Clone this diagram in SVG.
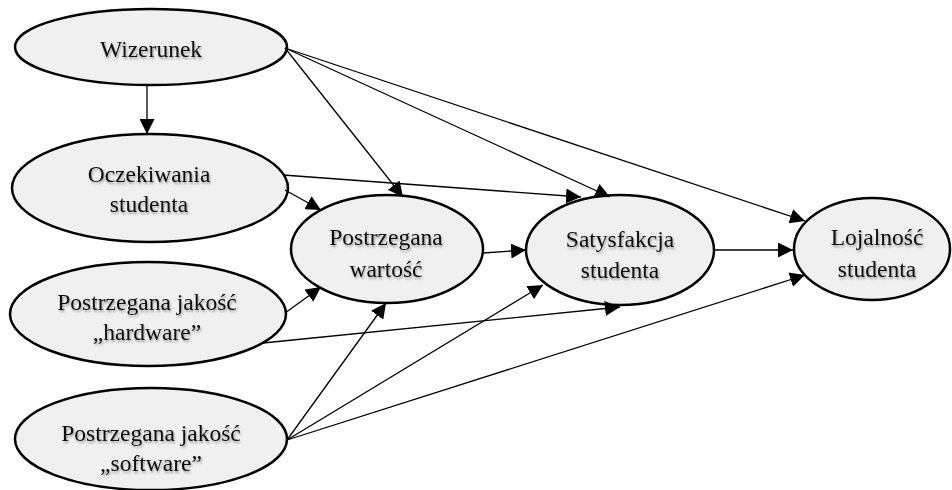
<svg xmlns="http://www.w3.org/2000/svg" width="952" height="490" viewBox="0 0 952 490">
  <defs>
    <marker id="arrow" markerUnits="userSpaceOnUse" markerWidth="16" markerHeight="15" refX="15" refY="7.5" orient="auto">
      <path d="M0,0 L15,7.5 L0,15 Z" fill="#000"/>
    </marker>
    <filter id="soft" x="-10%" y="-30%" width="120%" height="160%">
      <feGaussianBlur in="SourceAlpha" stdDeviation="1.2" result="b"/>
      <feOffset in="b" dx="1" dy="1.5" result="o"/>
      <feComponentTransfer in="o" result="s"><feFuncA type="linear" slope="0.35"/></feComponentTransfer>
      <feMerge><feMergeNode in="s"/><feMergeNode in="SourceGraphic"/></feMerge>
    </filter>
  </defs>
  <style>
    .node ellipse { fill: #f0f0f0; stroke: #000; stroke-width: 2.5; }
    .node text { font-family: "Liberation Serif", "Times New Roman", serif; font-size: 23.5px; fill: #111; text-anchor: middle; filter: url(#soft); }
    .edges line { stroke: #000; stroke-width: 1.3; marker-end: url(#arrow); }
  </style>
  <rect width="952" height="490" fill="#fff"/>

  <g id="wizerunek" class="node">
    <ellipse cx="151" cy="47" rx="136" ry="38"/>
    <text x="151" y="57">Wizerunek</text>
  </g>
  <g id="oczekiwania" class="node">
    <ellipse cx="150" cy="188" rx="138" ry="54"/>
    <text x="149" y="182">Oczekiwania</text>
    <text x="149" y="212">studenta</text>
  </g>
  <g id="jakosc-hardware" class="node">
    <ellipse cx="148" cy="314" rx="138" ry="52"/>
    <text x="147" y="310">Postrzegana jakość</text>
    <text x="147" y="340">„hardware”</text>
  </g>
  <g id="jakosc-software" class="node">
    <ellipse cx="151" cy="439" rx="136" ry="51"/>
    <text x="151" y="441">Postrzegana jakość</text>
    <text x="151" y="471">„software”</text>
  </g>
  <g id="wartosc" class="node">
    <ellipse cx="387" cy="249" rx="96" ry="54"/>
    <text x="386" y="245">Postrzegana</text>
    <text x="386" y="277">wartość</text>
  </g>
  <g id="satysfakcja" class="node">
    <ellipse cx="620" cy="250" rx="94" ry="55"/>
    <text x="620" y="247">Satysfakcja</text>
    <text x="620" y="278">studenta</text>
  </g>
  <g id="lojalnosc" class="node">
    <ellipse cx="872" cy="249" rx="78" ry="51"/>
    <text x="877" y="245">Lojalność</text>
    <text x="877" y="277">studenta</text>
  </g>

  <g id="connectors" class="edges">
    <line x1="147" y1="85" x2="147" y2="134"/>
    <line x1="285" y1="48" x2="403" y2="197"/>
    <line x1="285" y1="48" x2="610" y2="197"/>
    <line x1="285" y1="48" x2="805" y2="221"/>
    <line x1="283" y1="175" x2="581" y2="197"/>
    <line x1="285" y1="190" x2="321" y2="210"/>
    <line x1="483" y1="253" x2="526" y2="250"/>
    <line x1="714" y1="250" x2="793" y2="250"/>
    <line x1="285" y1="313" x2="321" y2="287"/>
    <line x1="263" y1="343" x2="620" y2="307"/>
    <line x1="287" y1="440" x2="386" y2="303"/>
    <line x1="287" y1="440" x2="543" y2="285"/>
    <line x1="287" y1="440" x2="805" y2="275"/>
  </g>
</svg>
